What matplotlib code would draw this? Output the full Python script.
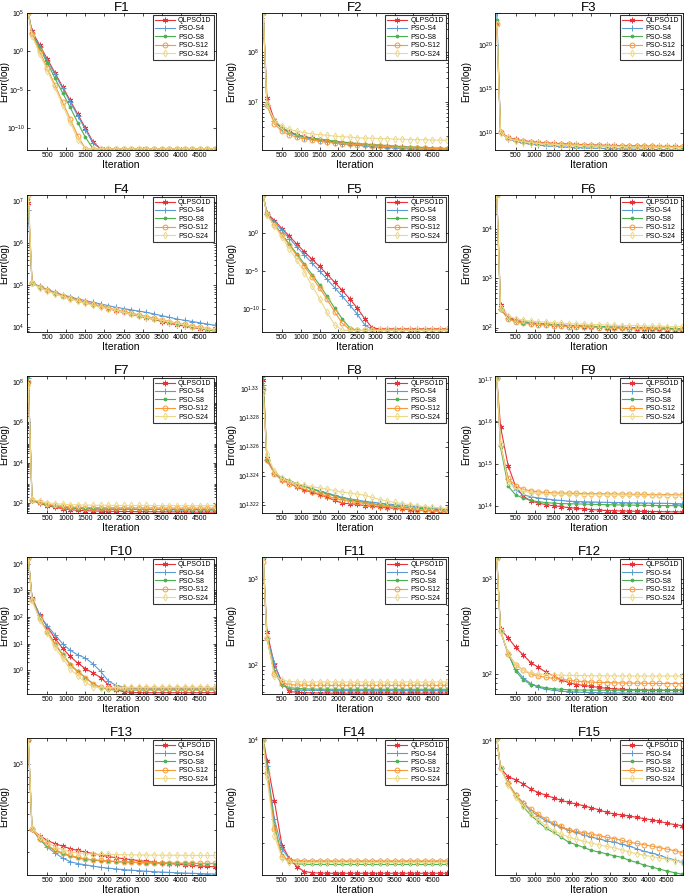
import numpy as np
import matplotlib
matplotlib.use("Agg")
import matplotlib.pyplot as plt
from matplotlib.ticker import FixedLocator, FixedFormatter, NullFormatter

plt.rcParams['font.family'] = ['Liberation Sans', 'DejaVu Sans']
plt.rcParams['mathtext.default'] = 'regular'

# iterations where the curves are sampled
iters = [1, 100, 300, 500, 700, 900, 1100, 1300, 1500, 1700, 1900, 2100, 2300,
         2500, 2700, 2900, 3100, 3300, 3500, 3700, 3900, 4100, 4300, 4500, 4700, 4900]
methods = ["QLPSO1D", "PSO-S4", "PSO-S8", "PSO-S12", "PSO-S24"]
titles = ["F%d" % i for i in range(1, 16)]

# log10(error), rows: QLPSO1D, PSO-S4, PSO-S8, PSO-S12, PSO-S24
f1 = [
    [5.0, 2.6, 0.8, -1.0, -2.8, -4.6, -6.4, -8.2, -10.0, -11.8, -12.7, -12.7, -12.7, -12.7, -12.7, -12.7, -12.7, -12.7, -12.7, -12.7, -12.7, -12.7, -12.7, -12.7, -12.7, -12.7],
    [5.0, 2.4, 0.6, -1.2, -3.0, -4.8, -6.6, -8.4, -10.2, -12.0, -12.7, -12.7, -12.7, -12.7, -12.7, -12.7, -12.7, -12.7, -12.7, -12.7, -12.7, -12.7, -12.7, -12.7, -12.7, -12.7],
    [5.0, 2.3, 0.4, -1.5, -3.5, -5.4, -7.3, -9.3, -11.2, -12.7, -12.7, -12.7, -12.7, -12.7, -12.7, -12.7, -12.7, -12.7, -12.7, -12.7, -12.7, -12.7, -12.7, -12.7, -12.7, -12.7],
    [5.0, 2.2, 0.0, -2.2, -4.4, -6.6, -8.8, -11.0, -12.7, -12.7, -12.7, -12.7, -12.7, -12.7, -12.7, -12.7, -12.7, -12.7, -12.7, -12.7, -12.7, -12.7, -12.7, -12.7, -12.7, -12.7],
    [5.0, 2.0, -0.3, -2.5, -4.7, -7.0, -9.2, -11.5, -12.7, -12.7, -12.7, -12.7, -12.7, -12.7, -12.7, -12.7, -12.7, -12.7, -12.7, -12.7, -12.7, -12.7, -12.7, -12.7, -12.7, -12.7],
]
f2 = [
    [8.8, 7.08, 6.62, 6.47, 6.39, 6.33, 6.29, 6.26, 6.23, 6.21, 6.19, 6.17, 6.16, 6.14, 6.13, 6.12, 6.11, 6.10, 6.09, 6.08, 6.07, 6.07, 6.06, 6.05, 6.05, 6.04],
    [8.8, 6.93, 6.60, 6.45, 6.37, 6.31, 6.27, 6.24, 6.21, 6.19, 6.17, 6.15, 6.13, 6.12, 6.10, 6.09, 6.08, 6.07, 6.06, 6.05, 6.04, 6.04, 6.03, 6.03, 6.02, 6.02],
    [8.8, 6.93, 6.60, 6.46, 6.38, 6.33, 6.29, 6.26, 6.24, 6.22, 6.20, 6.18, 6.17, 6.15, 6.14, 6.13, 6.12, 6.11, 6.10, 6.09, 6.08, 6.08, 6.07, 6.06, 6.06, 6.05],
    [8.8, 6.93, 6.55, 6.40, 6.33, 6.28, 6.25, 6.22, 6.20, 6.18, 6.16, 6.15, 6.14, 6.13, 6.12, 6.11, 6.10, 6.09, 6.08, 6.07, 6.07, 6.06, 6.06, 6.05, 6.05, 6.04],
    [8.8, 6.95, 6.62, 6.50, 6.44, 6.40, 6.37, 6.35, 6.33, 6.32, 6.30, 6.29, 6.28, 6.27, 6.26, 6.26, 6.25, 6.25, 6.24, 6.24, 6.23, 6.23, 6.23, 6.22, 6.22, 6.22],
]
f3 = [
    [22.4, 10.1, 9.45, 9.22, 9.08, 8.98, 8.90, 8.84, 8.79, 8.74, 8.70, 8.66, 8.63, 8.60, 8.58, 8.56, 8.54, 8.52, 8.50, 8.48, 8.47, 8.45, 8.44, 8.43, 8.42, 8.41],
    [23.7, 10.0, 9.30, 9.00, 8.80, 8.68, 8.58, 8.50, 8.44, 8.39, 8.34, 8.30, 8.27, 8.24, 8.21, 8.19, 8.17, 8.15, 8.13, 8.11, 8.09, 8.08, 8.06, 8.05, 8.04, 8.03],
    [22.9, 10.0, 9.38, 9.12, 8.97, 8.87, 8.79, 8.72, 8.67, 8.62, 8.58, 8.55, 8.52, 8.49, 8.47, 8.45, 8.43, 8.41, 8.39, 8.38, 8.36, 8.35, 8.34, 8.33, 8.32, 8.31],
    [22.4, 10.1, 9.42, 9.18, 9.03, 8.93, 8.85, 8.79, 8.74, 8.69, 8.65, 8.62, 8.59, 8.56, 8.54, 8.52, 8.50, 8.48, 8.46, 8.45, 8.43, 8.42, 8.41, 8.40, 8.39, 8.38],
    [22.4, 10.0, 9.35, 9.10, 8.95, 8.85, 8.77, 8.71, 8.66, 8.61, 8.57, 8.54, 8.51, 8.48, 8.46, 8.44, 8.42, 8.40, 8.38, 8.37, 8.35, 8.34, 8.33, 8.32, 8.31, 8.30],
]
f4 = [
    [6.97, 5.05, 4.96, 4.88, 4.81, 4.75, 4.69, 4.64, 4.59, 4.54, 4.49, 4.44, 4.39, 4.35, 4.30, 4.26, 4.22, 4.18, 4.13, 4.09, 4.05, 4.02, 3.99, 3.96, 3.93, 3.90],
    [6.80, 5.05, 4.97, 4.90, 4.83, 4.77, 4.72, 4.67, 4.63, 4.59, 4.55, 4.51, 4.47, 4.44, 4.41, 4.38, 4.35, 4.31, 4.27, 4.23, 4.19, 4.16, 4.13, 4.10, 4.07, 4.04],
    [7.05, 5.05, 4.96, 4.88, 4.81, 4.74, 4.68, 4.63, 4.58, 4.53, 4.49, 4.44, 4.40, 4.35, 4.31, 4.27, 4.23, 4.19, 4.15, 4.11, 4.07, 4.04, 4.00, 3.97, 3.94, 3.91],
    [7.16, 5.05, 4.96, 4.88, 4.81, 4.75, 4.69, 4.64, 4.59, 4.55, 4.50, 4.46, 4.41, 4.37, 4.33, 4.29, 4.25, 4.21, 4.17, 4.13, 4.09, 4.06, 4.02, 3.99, 3.96, 3.93],
    [7.16, 5.04, 4.94, 4.86, 4.79, 4.73, 4.67, 4.62, 4.57, 4.52, 4.48, 4.44, 4.40, 4.35, 4.31, 4.27, 4.23, 4.19, 4.16, 4.12, 4.08, 4.05, 4.01, 3.98, 3.95, 3.92],
]
f5 = [
    [4.9, 2.6, 1.6, 0.56, -0.45, -1.5, -2.5, -3.45, -4.4, -5.4, -6.45, -7.5, -8.6, -9.8, -11.2, -12.4, -12.55, -12.55, -12.55, -12.55, -12.55, -12.55, -12.55, -12.55, -12.55, -12.55],
    [4.9, 2.5, 1.4, 0.3, -0.75, -1.85, -2.9, -3.95, -5.0, -6.05, -7.15, -8.25, -9.4, -10.6, -12.0, -12.65, -12.75, -12.75, -12.75, -12.75, -12.75, -12.75, -12.75, -12.75, -12.75, -12.75],
    [4.9, 2.4, 1.1, -0.2, -1.5, -2.8, -4.1, -5.45, -6.8, -8.3, -9.8, -11.2, -12.4, -12.75, -12.75, -12.75, -12.75, -12.75, -12.75, -12.75, -12.75, -12.75, -12.75, -12.75, -12.75, -12.75],
    [4.9, 2.4, 1.0, -0.3, -1.65, -3.0, -4.4, -5.8, -7.2, -8.7, -10.3, -11.8, -12.6, -12.75, -12.75, -12.75, -12.75, -12.75, -12.75, -12.75, -12.75, -12.75, -12.75, -12.75, -12.75, -12.75],
    [4.9, 2.3, 0.9, -0.6, -2.1, -3.6, -5.2, -6.9, -8.6, -10.4, -12.0, -12.7, -12.75, -12.75, -12.75, -12.75, -12.75, -12.75, -12.75, -12.75, -12.75, -12.75, -12.75, -12.75, -12.75, -12.75],
]
f6 = [
    [4.7, 2.45, 2.22, 2.15, 2.12, 2.10, 2.08, 2.07, 2.06, 2.05, 2.04, 2.03, 2.02, 2.02, 2.01, 2.00, 2.00, 1.99, 1.99, 1.98, 1.98, 1.97, 1.97, 1.96, 1.96, 1.95],
    [4.7, 2.38, 2.20, 2.14, 2.11, 2.09, 2.08, 2.07, 2.06, 2.05, 2.04, 2.04, 2.03, 2.03, 2.02, 2.02, 2.01, 2.01, 2.00, 2.00, 2.00, 1.99, 1.99, 1.99, 1.98, 1.98],
    [4.7, 2.37, 2.19, 2.13, 2.10, 2.085, 2.075, 2.065, 2.055, 2.045, 2.037, 2.033, 2.027, 2.023, 2.017, 2.013, 2.007, 2.003, 1.997, 1.995, 1.993, 1.987, 1.985, 1.983, 1.977, 1.975],
    [4.7, 2.38, 2.17, 2.12, 2.09, 2.07, 2.06, 2.05, 2.04, 2.03, 2.02, 2.02, 2.01, 2.01, 2.00, 2.00, 1.99, 1.99, 1.98, 1.98, 1.98, 1.97, 1.97, 1.96, 1.96, 1.96],
    [4.7, 2.40, 2.24, 2.18, 2.15, 2.13, 2.12, 2.11, 2.10, 2.09, 2.08, 2.07, 2.07, 2.06, 2.06, 2.05, 2.05, 2.04, 2.04, 2.04, 2.03, 2.03, 2.03, 2.02, 2.02, 2.02],
]
f7 = [
    [8.0, 2.15, 2.00, 1.88, 1.80, 1.73, 1.68, 1.65, 1.63, 1.62, 1.61, 1.60, 1.60, 1.59, 1.59, 1.58, 1.58, 1.58, 1.57, 1.57, 1.57, 1.57, 1.56, 1.56, 1.56, 1.56],
    [8.2, 2.15, 2.02, 1.92, 1.85, 1.80, 1.77, 1.75, 1.74, 1.73, 1.72, 1.72, 1.71, 1.71, 1.71, 1.70, 1.70, 1.70, 1.70, 1.69, 1.69, 1.69, 1.69, 1.69, 1.68, 1.68],
    [8.3, 2.15, 2.02, 1.91, 1.84, 1.79, 1.76, 1.74, 1.73, 1.72, 1.71, 1.71, 1.70, 1.70, 1.70, 1.69, 1.69, 1.69, 1.69, 1.68, 1.68, 1.68, 1.68, 1.68, 1.67, 1.67],
    [8.0, 2.17, 2.05, 1.95, 1.89, 1.85, 1.82, 1.80, 1.79, 1.79, 1.78, 1.78, 1.78, 1.77, 1.77, 1.77, 1.77, 1.77, 1.76, 1.76, 1.76, 1.76, 1.76, 1.76, 1.76, 1.76],
    [7.85, 2.20, 2.10, 2.03, 1.98, 1.95, 1.93, 1.92, 1.91, 1.90, 1.90, 1.90, 1.89, 1.89, 1.89, 1.89, 1.89, 1.88, 1.88, 1.88, 1.88, 1.88, 1.88, 1.88, 1.88, 1.88],
]
f8 = [
    [1.3306, 1.32523, 1.3242, 1.32375, 1.32352, 1.32325, 1.32307, 1.32289, 1.32273, 1.32257, 1.32234, 1.32216, 1.32211, 1.32207, 1.32198, 1.32193, 1.32189, 1.32184, 1.3218, 1.32175, 1.3217, 1.32168, 1.32166, 1.32164, 1.32161, 1.32159],
    [1.3303, 1.32511, 1.32425, 1.32385, 1.32365, 1.32345, 1.3233, 1.32315, 1.323, 1.32285, 1.3227, 1.32255, 1.32245, 1.32237, 1.32228, 1.32222, 1.32216, 1.3221, 1.32205, 1.322, 1.32195, 1.3219, 1.32185, 1.32182, 1.32178, 1.32175],
    [1.3309, 1.3251, 1.32425, 1.3239, 1.3237, 1.3235, 1.3233, 1.32312, 1.32295, 1.3228, 1.32265, 1.3225, 1.3224, 1.3223, 1.3222, 1.32212, 1.32205, 1.322, 1.32195, 1.3219, 1.32185, 1.3218, 1.32177, 1.32174, 1.32171, 1.32168],
    [1.3300, 1.3251, 1.32418, 1.32372, 1.3235, 1.3233, 1.32312, 1.32295, 1.3228, 1.32265, 1.3225, 1.32238, 1.32228, 1.3222, 1.32212, 1.32205, 1.32198, 1.32192, 1.32186, 1.3218, 1.32174, 1.3217, 1.32165, 1.32161, 1.32157, 1.32153],
    [1.3297, 1.3255, 1.32435, 1.32385, 1.32365, 1.3235, 1.32338, 1.32328, 1.3232, 1.32312, 1.32302, 1.32292, 1.32285, 1.32278, 1.3227, 1.32255, 1.3224, 1.3223, 1.3222, 1.32212, 1.32205, 1.32198, 1.32192, 1.32187, 1.32182, 1.32178],
]
f9 = [
    [1.705, 1.589, 1.497, 1.447, 1.424, 1.413, 1.408, 1.404, 1.4015, 1.3995, 1.397, 1.3955, 1.394, 1.3925, 1.3912, 1.3902, 1.3895, 1.389, 1.3886, 1.3883, 1.3881, 1.3878, 1.3875, 1.3872, 1.387, 1.3867],
    [1.705, 1.544, 1.466, 1.439, 1.4273, 1.423, 1.42, 1.418, 1.4156, 1.414, 1.4125, 1.4115, 1.411, 1.4105, 1.41, 1.4096, 1.4092, 1.409, 1.4087, 1.4084, 1.4081, 1.4078, 1.4075, 1.4071, 1.4067, 1.4062],
    [1.705, 1.54, 1.448, 1.4273, 1.42, 1.414, 1.4112, 1.409, 1.4075, 1.4068, 1.4062, 1.406, 1.4055, 1.405, 1.4045, 1.404, 1.4037, 1.4034, 1.4031, 1.4028, 1.4025, 1.4023, 1.4021, 1.4019, 1.4017, 1.4016],
    [1.705, 1.5465, 1.4663, 1.4491, 1.4405, 1.437, 1.4345, 1.4332, 1.4322, 1.4316, 1.4312, 1.4308, 1.4305, 1.4302, 1.43, 1.4297, 1.4295, 1.4292, 1.429, 1.4287, 1.4284, 1.4281, 1.4279, 1.4277, 1.4275, 1.4273],
    [1.705, 1.548, 1.4585, 1.4429, 1.436, 1.4325, 1.431, 1.43, 1.4294, 1.429, 1.4287, 1.4284, 1.4281, 1.4279, 1.4276, 1.4273, 1.4271, 1.4269, 1.4267, 1.4265, 1.4263, 1.4261, 1.4259, 1.4258, 1.4257, 1.4256],
]
f10 = [
    [4.21, 2.72, 2.07, 1.63, 1.2, 0.83, 0.52, 0.27, 0.06, -0.1, -0.27, -0.54, -0.73, -0.8, -0.83, -0.84, -0.84, -0.84, -0.84, -0.84, -0.84, -0.84, -0.84, -0.84, -0.84, -0.84],
    [4.21, 2.7, 2.06, 1.67, 1.33, 1.0, 0.75, 0.58, 0.46, 0.24, -0.04, -0.4, -0.56, -0.63, -0.67, -0.68, -0.69, -0.69, -0.69, -0.69, -0.69, -0.69, -0.69, -0.69, -0.69, -0.69],
    [4.21, 2.65, 1.95, 1.45, 1.0, 0.6, 0.22, -0.04, -0.27, -0.5, -0.65, -0.72, -0.74, -0.74, -0.74, -0.74, -0.74, -0.74, -0.74, -0.74, -0.74, -0.74, -0.74, -0.74, -0.74, -0.74],
    [4.21, 2.65, 1.95, 1.45, 0.98, 0.58, 0.2, -0.06, -0.28, -0.52, -0.64, -0.67, -0.66, -0.66, -0.66, -0.66, -0.66, -0.66, -0.66, -0.66, -0.66, -0.66, -0.66, -0.66, -0.66, -0.66],
    [4.21, 2.62, 1.9, 1.4, 0.87, 0.45, 0.05, -0.21, -0.45, -0.62, -0.66, -0.65, -0.64, -0.64, -0.64, -0.64, -0.64, -0.64, -0.64, -0.64, -0.64, -0.64, -0.64, -0.64, -0.64, -0.64],
]
f11 = [
    [3.25, 2.39, 2.01, 1.81, 1.70, 1.69, 1.685, 1.683, 1.682, 1.681, 1.68, 1.68, 1.68, 1.68, 1.68, 1.68, 1.68, 1.68, 1.68, 1.68, 1.68, 1.68, 1.68, 1.68, 1.68, 1.68],
    [3.25, 2.32, 2.03, 1.78, 1.73, 1.72, 1.715, 1.713, 1.712, 1.711, 1.71, 1.71, 1.71, 1.71, 1.71, 1.71, 1.71, 1.71, 1.71, 1.71, 1.71, 1.71, 1.71, 1.71, 1.71, 1.71],
    [3.26, 2.32, 1.94, 1.77, 1.745, 1.735, 1.73, 1.728, 1.727, 1.726, 1.725, 1.725, 1.725, 1.725, 1.725, 1.725, 1.725, 1.725, 1.725, 1.725, 1.725, 1.725, 1.725, 1.725, 1.725, 1.725],
    [3.2, 2.32, 1.9, 1.8, 1.78, 1.775, 1.772, 1.77, 1.77, 1.77, 1.77, 1.77, 1.77, 1.77, 1.77, 1.77, 1.77, 1.77, 1.77, 1.77, 1.77, 1.77, 1.77, 1.77, 1.77, 1.77],
    [3.26, 2.33, 1.88, 1.83, 1.815, 1.812, 1.81, 1.81, 1.81, 1.81, 1.81, 1.81, 1.81, 1.81, 1.81, 1.81, 1.81, 1.81, 1.81, 1.81, 1.81, 1.81, 1.81, 1.81, 1.81, 1.81],
]
f12 = [
    [3.22, 2.47, 2.38, 2.28, 2.2, 2.12, 2.07, 2.02, 1.98, 1.94, 1.91, 1.89, 1.88, 1.87, 1.86, 1.85, 1.845, 1.84, 1.835, 1.833, 1.832, 1.831, 1.83, 1.83, 1.83, 1.83],
    [3.22, 2.45, 2.21, 2.05, 1.96, 1.9, 1.86, 1.84, 1.83, 1.82, 1.815, 1.81, 1.808, 1.806, 1.805, 1.804, 1.803, 1.802, 1.801, 1.8, 1.8, 1.8, 1.8, 1.8, 1.8, 1.8],
    [3.22, 2.45, 2.22, 2.03, 1.94, 1.89, 1.87, 1.855, 1.845, 1.84, 1.835, 1.833, 1.832, 1.831, 1.83, 1.83, 1.83, 1.83, 1.83, 1.83, 1.83, 1.83, 1.83, 1.83, 1.83, 1.83],
    [3.22, 2.45, 2.21, 2.1, 2.04, 2.0, 1.98, 1.965, 1.955, 1.945, 1.935, 1.925, 1.92, 1.915, 1.912, 1.91, 1.908, 1.906, 1.905, 1.904, 1.903, 1.902, 1.901, 1.9, 1.9, 1.9],
    [3.22, 2.45, 2.22, 2.09, 2.04, 2.01, 2.0, 1.995, 1.99, 1.988, 1.986, 1.985, 1.984, 1.983, 1.982, 1.982, 1.981, 1.981, 1.981, 1.98, 1.98, 1.98, 1.98, 1.98, 1.98, 1.98],
]
f13 = [
    [3.2, 2.48, 2.43, 2.39, 2.365, 2.345, 2.325, 2.31, 2.297, 2.285, 2.272, 2.262, 2.252, 2.244, 2.236, 2.229, 2.222, 2.216, 2.21, 2.205, 2.2, 2.195, 2.19, 2.186, 2.182, 2.179],
    [3.2, 2.48, 2.4, 2.337, 2.29, 2.25, 2.22, 2.205, 2.195, 2.185, 2.175, 2.168, 2.162, 2.157, 2.152, 2.148, 2.144, 2.14, 2.137, 2.134, 2.131, 2.129, 2.127, 2.125, 2.123, 2.121],
    [3.2, 2.48, 2.4, 2.345, 2.31, 2.285, 2.265, 2.25, 2.239, 2.233, 2.228, 2.224, 2.22, 2.217, 2.215, 2.213, 2.211, 2.21, 2.209, 2.208, 2.207, 2.206, 2.206, 2.205, 2.205, 2.205],
    [3.2, 2.48, 2.405, 2.35, 2.315, 2.29, 2.27, 2.255, 2.242, 2.235, 2.23, 2.226, 2.222, 2.219, 2.216, 2.214, 2.212, 2.211, 2.21, 2.209, 2.208, 2.207, 2.207, 2.206, 2.206, 2.206],
    [3.21, 2.49, 2.42, 2.376, 2.34, 2.315, 2.3, 2.29, 2.284, 2.281, 2.279, 2.278, 2.277, 2.276, 2.275, 2.274, 2.273, 2.273, 2.272, 2.272, 2.271, 2.271, 2.271, 2.27, 2.27, 2.27],
]
f14 = [
    [4.01, 3.86, 3.584, 3.284, 3.196, 3.14, 3.107, 3.1, 3.097, 3.096, 3.096, 3.096, 3.096, 3.096, 3.096, 3.096, 3.096, 3.096, 3.096, 3.096, 3.096, 3.096, 3.096, 3.096, 3.096, 3.096],
    [4.0, 3.82, 3.462, 3.262, 3.191, 3.18, 3.178, 3.177, 3.177, 3.176, 3.176, 3.176, 3.176, 3.176, 3.176, 3.176, 3.176, 3.176, 3.176, 3.176, 3.176, 3.176, 3.176, 3.176, 3.176, 3.176],
    [4.0, 3.8, 3.418, 3.218, 3.17, 3.16, 3.157, 3.156, 3.156, 3.156, 3.156, 3.156, 3.156, 3.156, 3.156, 3.156, 3.156, 3.156, 3.156, 3.156, 3.156, 3.156, 3.156, 3.156, 3.156, 3.156],
    [4.0, 3.773, 3.396, 3.207, 3.186, 3.182, 3.181, 3.18, 3.18, 3.18, 3.18, 3.18, 3.18, 3.18, 3.18, 3.18, 3.18, 3.18, 3.18, 3.18, 3.18, 3.18, 3.18, 3.18, 3.18, 3.18],
    [3.99, 3.75, 3.351, 3.2, 3.172, 3.17, 3.17, 3.17, 3.17, 3.17, 3.17, 3.17, 3.17, 3.17, 3.17, 3.17, 3.17, 3.17, 3.17, 3.17, 3.17, 3.17, 3.17, 3.17, 3.17, 3.17],
]
f15 = [
    [4.02, 3.816, 3.76, 3.738, 3.71, 3.675, 3.652, 3.634, 3.616, 3.6, 3.585, 3.575, 3.562, 3.549, 3.535, 3.518, 3.507, 3.5, 3.493, 3.484, 3.475, 3.467, 3.457, 3.444, 3.435, 3.427],
    [4.02, 3.816, 3.716, 3.638, 3.578, 3.527, 3.493, 3.46, 3.438, 3.416, 3.396, 3.382, 3.364, 3.349, 3.338, 3.324, 3.316, 3.302, 3.289, 3.271, 3.253, 3.242, 3.227, 3.209, 3.196, 3.182],
    [4.02, 3.816, 3.716, 3.627, 3.556, 3.498, 3.453, 3.409, 3.382, 3.349, 3.316, 3.298, 3.28, 3.26, 3.249, 3.236, 3.224, 3.213, 3.193, 3.178, 3.16, 3.147, 3.133, 3.12, 3.109, 3.098],
    [4.02, 3.816, 3.716, 3.638, 3.582, 3.538, 3.504, 3.471, 3.444, 3.422, 3.4, 3.389, 3.38, 3.371, 3.36, 3.349, 3.34, 3.329, 3.316, 3.307, 3.298, 3.289, 3.278, 3.269, 3.258, 3.244],
    [4.02, 3.816, 3.704, 3.622, 3.56, 3.509, 3.467, 3.427, 3.393, 3.371, 3.349, 3.336, 3.322, 3.309, 3.298, 3.287, 3.278, 3.264, 3.249, 3.238, 3.227, 3.218, 3.209, 3.2, 3.191, 3.182],
]
panels = [f1, f2, f3, f4, f5, f6, f7, f8, f9, f10, f11, f12, f13, f14, f15]

# y range (log10) and labelled decades of each panel
ylims = [(-12.85, 5.0), (6.02, 8.8), (8.02, 23.7), (3.88, 7.16), (-12.95, 4.95),
         (1.91, 4.7), (1.52, 8.3), (1.32148, 1.3309), (1.3844, 1.71), (-0.89, 4.25),
         (1.67, 3.26), (1.79, 3.23), (2.113, 3.213), (3.084, 4.013), (3.093, 4.022)]
yticks = [[-10, -5, 0, 5], [7, 8], [10, 15, 20], [4, 5, 6, 7], [-10, -5, 0],
          [2, 3, 4], [2, 4, 6, 8], [1.322, 1.324, 1.326, 1.328, 1.33], [1.4, 1.5, 1.6, 1.7], [0, 1, 2, 3, 4],
          [2, 3], [2, 3], [3], [4], [4]]
xticks = [500, 1000, 1500, 2000, 2500, 3000, 3500, 4000, 4500]

colors = ["#e8323a", "#5b9bd5", "#4cb050", "#f89a38", "#ecd98a"]
markers = [(6, 2, 0), "+", ".", "o", "d"]
msizes = [4, 4, 4, 3.5, 3.5]

fig = plt.figure(figsize=(6.85, 8.96), dpi=100)
col_x = [0.039, 0.382, 0.723]
col_w = [0.276, 0.272, 0.274]
ylab_x = [-0.093, -0.135, -0.13]
row_y = [0.8326, 0.6295, 0.4275, 0.2254, 0.0234]
row_h = 0.153

for k, data in enumerate(panels):
    r, c = divmod(k, 3)
    ax = fig.add_axes([col_x[c], row_y[r], col_w[c], row_h])
    for j, vals in enumerate(data):
        mfc = "none" if markers[j] in ("o", "d") else colors[j]
        ax.plot(iters, 10.0 ** np.array(vals), color=colors[j], lw=0.8,
                marker=markers[j], ms=msizes[j], mfc=mfc, mew=0.7,
                label=methods[j])
    ax.set_yscale("log")
    ax.set_ylim(10.0 ** ylims[k][0], 10.0 ** ylims[k][1])
    ax.set_xlim(-40, 4920)
    ax.set_xticks(xticks)
    ax.tick_params(axis="x", labelsize=5, direction="in", top=True, length=2.5, width=0.5, pad=1.5)
    ax.yaxis.set_major_locator(FixedLocator([10.0 ** e for e in yticks[k]]))
    ax.yaxis.set_major_formatter(FixedFormatter(["$10^{%s}$" % ("%g" % e) for e in yticks[k]]))
    ax.yaxis.set_minor_formatter(NullFormatter())
    ax.tick_params(axis="y", which="both", labelsize=5, direction="in", right=True, width=0.5, pad=1.5)
    ax.tick_params(axis="y", which="major", length=2.5)
    ax.tick_params(axis="y", which="minor", length=1.5)
    for s in ax.spines.values():
        s.set_linewidth(0.6)
    ax.set_title(titles[k], fontsize=9.5, pad=1.5)
    ax.set_xlabel("Iteration", fontsize=7.5, labelpad=0.5)
    ax.set_ylabel("Error(log)", fontsize=7)
    ax.yaxis.set_label_coords(ylab_x[c], 0.5)
    leg = ax.legend(loc="upper right", fontsize=5, frameon=True, fancybox=False,
                    borderaxespad=0.3, handlelength=2.8, labelspacing=0.2,
                    borderpad=0.3, handletextpad=0.5)
    leg.get_frame().set_edgecolor("black")
    leg.get_frame().set_linewidth(0.8)

fig.savefig("out.png", dpi=100)
